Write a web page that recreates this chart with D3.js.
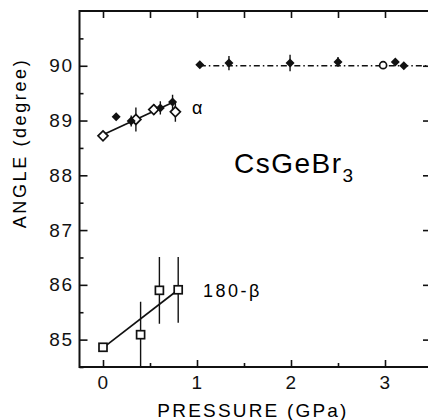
<!DOCTYPE html>
<html>
<head>
<meta charset="utf-8">
<script src="https://cdn.jsdelivr.net/npm/d3@7"></script>
<style>
  body { margin: 0; background: #fff; }
  svg { display: block; font-family: 'Liberation Sans', Arial, sans-serif; }
  .axis text { font-size: 19px; fill: #111; letter-spacing: 1.5px; }
  .axis path { display: none; }
  .axis line { stroke: #111; stroke-width: 1.6; }
</style>
</head>
<body>
<div id="container"></div>
<script>
// alpha angle, low-pressure phase
const alphaOpenP = [0, 0.35, 0.54, 0.77];
const alphaOpenA = [88.72, 89.02, 89.20, 89.16];
const alphaOpenErr = [0, 0.22, 0.1, 0.18];
const alphaFilledP = [0.14, 0.30, 0.61, 0.74];
const alphaFilledA = [89.07, 88.99, 89.23, 89.34];
const alphaFilledErr = [0, 0.1, 0.12, 0.13];
const alphaFitP = [0, 0.74];
const alphaFitA = [88.74, 89.33];

// high-pressure phase (cubic, 90 deg)
const hpFilledP = [1.03, 1.34, 1.99, 2.50, 3.11, 3.20];
const hpFilledA = [90.02, 90.05, 90.05, 90.07, 90.07, 90.0];
const hpFilledErr = [0, 0.13, 0.15, 0.09, 0, 0];
const hpOpenP = [2.98];
const hpOpenA = [90.01];
const hpLineP = [1.03, 3.5];
const hpLineA = [90.0, 90.0];

// 180 - beta
const betaP = [0, 0.40, 0.60, 0.80];
const betaA = [84.86, 85.09, 85.90, 85.91];
const betaErr = [0, 0.6, 0.61, 0.6];
const betaFitP = [0, 0.80];
const betaFitA = [84.85, 85.91];

const xMajor = [0, 1, 2, 3];
const xMinor = [0.5, 1.5, 2.5];
const yMajor = [85, 86, 87, 88, 89, 90];
const yMinor = [84.5, 85.5, 86.5, 87.5, 88.5, 89.5, 90.5];

const W = 428, H = 420;
const svg = d3.select('#container').append('svg').attr('width', W).attr('height', H);

const x = d3.scaleLinear().domain([-0.25, 3.5]).range([79.5, 432]);
const y = d3.scaleLinear().domain([84.5, 91]).range([367, 11]);

const zip = (xs, ys, es) => xs.map((p, i) => ({ p: p, a: ys[i], e: es ? es[i] : 0 }));

drawAxes();
drawData();
drawLabels();

function drawAxes() {
  // frame
  svg.append('rect')
    .attr('x', x(-0.25)).attr('y', y(91))
    .attr('width', x(3.5) - x(-0.25)).attr('height', y(84.5) - y(91))
    .attr('fill', 'none').attr('stroke', '#111').attr('stroke-width', 2);

  // bottom
  svg.append('g').attr('class', 'axis').attr('transform', `translate(0, ${y(84.5)})`)
    .call(d3.axisBottom(x).tickValues(xMajor).tickSize(-7).tickPadding(9).tickFormat(d3.format('d')));
  svg.append('g').attr('class', 'axis').attr('transform', `translate(0, ${y(84.5)})`)
    .call(d3.axisBottom(x).tickValues(xMinor).tickSize(-4).tickFormat(''));
  // top
  svg.append('g').attr('class', 'axis').attr('transform', `translate(0, ${y(91)})`)
    .call(d3.axisTop(x).tickValues(xMajor.concat(xMinor)).tickSize(-7).tickFormat(''));
  // left
  svg.append('g').attr('class', 'axis').attr('transform', `translate(${x(-0.25)}, 0)`)
    .call(d3.axisLeft(y).tickValues(yMajor).tickSize(-8).tickPadding(6).tickFormat(d3.format('d')));
  svg.append('g').attr('class', 'axis').attr('transform', `translate(${x(-0.25)}, 0)`)
    .call(d3.axisLeft(y).tickValues(yMinor).tickSize(-4).tickFormat(''));
  // right
  svg.append('g').attr('class', 'axis').attr('transform', `translate(${x(3.5)}, 0)`)
    .call(d3.axisRight(y).tickValues(yMajor).tickSize(-9).tickFormat(''));
  svg.append('g').attr('class', 'axis').attr('transform', `translate(${x(3.5)}, 0)`)
    .call(d3.axisRight(y).tickValues(yMinor).tickSize(-4).tickFormat(''));
}

function drawData() {
  svg.append('clipPath').attr('id', 'plot').append('rect')
    .attr('x', x(-0.25)).attr('y', y(91))
    .attr('width', x(3.5) - x(-0.25)).attr('height', y(84.5) - y(91));
  const g = svg.append('g').attr('clip-path', 'url(#plot)');
  const line = d3.line().x((d) => x(d.p)).y((d) => y(d.a));

  // fit lines
  g.append('path').datum(zip(alphaFitP, alphaFitA))
    .attr('d', line).attr('fill', 'none').attr('stroke', '#111').attr('stroke-width', 1.7);
  g.append('path').datum(zip(betaFitP, betaFitA))
    .attr('d', line).attr('fill', 'none').attr('stroke', '#111').attr('stroke-width', 1.7);
  g.append('path').datum(zip(hpLineP, hpLineA))
    .attr('d', line).attr('fill', 'none').attr('stroke', '#111').attr('stroke-width', 1.5)
    .attr('stroke-dasharray', '6,3,1.5,3');

  // error bars
  const bars = zip(alphaOpenP, alphaOpenA, alphaOpenErr)
    .concat(zip(alphaFilledP, alphaFilledA, alphaFilledErr))
    .concat(zip(hpFilledP, hpFilledA, hpFilledErr))
    .concat(zip(betaP, betaA, betaErr))
    .filter((d) => d.e > 0);
  g.selectAll('line.err').data(bars).enter().append('line')
    .attr('class', 'err')
    .attr('x1', (d) => x(d.p)).attr('x2', (d) => x(d.p))
    .attr('y1', (d) => y(d.a - d.e)).attr('y2', (d) => y(d.a + d.e))
    .attr('stroke', '#111').attr('stroke-width', 1.4);

  const diamond = (s) => `M0,${-s}L${s},0L0,${s}L${-s},0Z`;

  // open diamonds
  g.selectAll('path.od').data(zip(alphaOpenP, alphaOpenA)).enter().append('path')
    .attr('class', 'od')
    .attr('d', diamond(5))
    .attr('transform', (d) => `translate(${x(d.p)}, ${y(d.a)})`)
    .attr('fill', '#fff').attr('stroke', '#111').attr('stroke-width', 1.7);

  // filled diamonds
  g.selectAll('path.fd').data(zip(alphaFilledP, alphaFilledA).concat(zip(hpFilledP, hpFilledA))).enter().append('path')
    .attr('class', 'fd')
    .attr('d', diamond(4.5))
    .attr('transform', (d) => `translate(${x(d.p)}, ${y(d.a)})`)
    .attr('fill', '#111');

  // open circle
  g.selectAll('circle.oc').data(zip(hpOpenP, hpOpenA)).enter().append('circle')
    .attr('class', 'oc')
    .attr('cx', (d) => x(d.p)).attr('cy', (d) => y(d.a)).attr('r', 3.5)
    .attr('fill', '#fff').attr('stroke', '#111').attr('stroke-width', 1.7);

  // open squares
  g.selectAll('rect.sq').data(zip(betaP, betaA)).enter().append('rect')
    .attr('class', 'sq')
    .attr('x', (d) => x(d.p) - 4).attr('y', (d) => y(d.a) - 4)
    .attr('width', 8).attr('height', 8)
    .attr('fill', '#fff').attr('stroke', '#111').attr('stroke-width', 1.7);
}

function drawLabels() {
  svg.append('text')
    .attr('x', 253).attr('y', 417)
    .attr('text-anchor', 'middle')
    .style('font-size', '19px').style('letter-spacing', '2.2px')
    .text('PRESSURE (GPa)');

  svg.append('text')
    .attr('transform', 'translate(26, 143) rotate(-90)')
    .attr('text-anchor', 'middle')
    .style('font-size', '18px').style('letter-spacing', '2.6px')
    .text('ANGLE (degree)');

  svg.append('text')
    .attr('x', 192).attr('y', 114)
    .style('font-size', '18px')
    .text('α');

  const cs = svg.append('text')
    .attr('x', 234).attr('y', 173)
    .style('font-size', '28px').style('letter-spacing', '1.5px');
  cs.append('tspan').text('CsGeBr');
  cs.append('tspan').attr('dy', 9).style('font-size', '19px').text('3');

  svg.append('text')
    .attr('x', 203).attr('y', 297)
    .style('font-size', '18px').style('letter-spacing', '2.5px')
    .text('180-β');
}
</script>
</body>
</html>
